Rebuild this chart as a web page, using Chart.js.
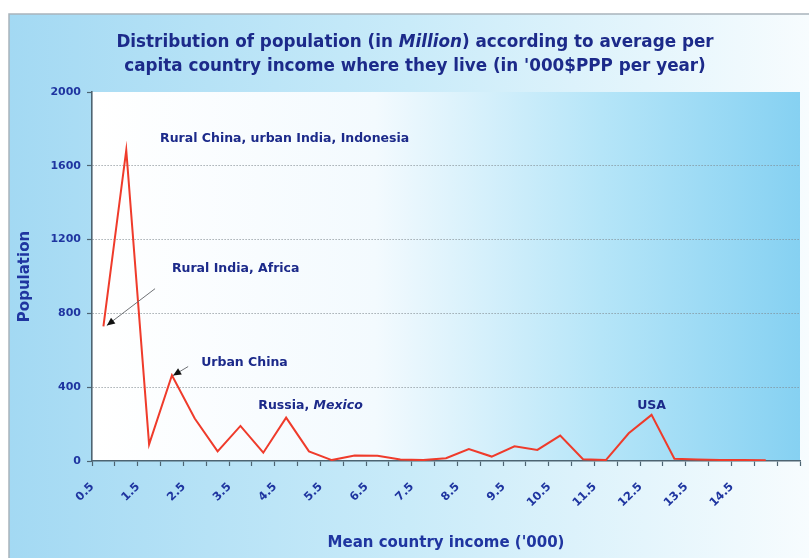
<!DOCTYPE html>
<html>
<head>
<meta charset="utf-8">
<script src="https://cdn.jsdelivr.net/npm/chart.js@4/dist/chart.umd.min.js"></script>
<style>
  html, body { margin: 0; padding: 0; background: #ffffff; }
  canvas { display: block; }
</style>
</head>
<body>
<canvas id="chart" width="809" height="558"></canvas>
<script>
// Mean country income categories ('000 $PPP), in half-thousand steps
const incomeCategories = ['0.5','1','1.5','2','2.5','3','3.5','4','4.5','5','5.5','6','6.5','7','7.5',
  '8','8.5','9','9.5','10','10.5','11','11.5','12','12.5','13','13.5','14','14.5','15',''];

// Population living in countries of each income band (million)
const population = [730, 1685, 90, 465, 230, 52, 190, 45, 235, 52, 5, 30, 28, 8, 5,
  15, 65, 24, 80, 60, 138, 10, 5, 150, 250, 12, 8, 6, 5, 4, null];

// Category labels printed under the axis
const tickLabels = ['0.5','1.5','2.5','3.5','4.5','5.5','6.5','7.5','8.5','9.5','10.5','11.5','12.5','13.5','14.5'];

// Value axis range
const yMin = 0, yMax = 2000, yStep = 400;

const titleLines = [
  [['Distribution of population (in ', 'normal'], ['Million', 'italic'], [') according to average per', 'normal']],
  [["capita country income where they live (in '000$PPP per year)", 'normal']]
];

// Callouts in data space: x = category index, y = population
const callouts = [
  { runs: [['Rural China, urban India, Indonesia', 'normal']], x: 2.48, y: 1746, align: 'left' },
  { runs: [['Rural India, Africa', 'normal']], x: 3.0, y: 1044, align: 'left',
    arrow: { from: [2.26, 934], to: [0.15, 735] } },
  { runs: [['Urban China', 'normal']], x: 4.28, y: 533, align: 'left',
    arrow: { from: [3.71, 512], to: [3.05, 463] } },
  { runs: [['Russia, ', 'normal'], ['Mexico', 'italic']], x: 6.78, y: 302, align: 'left' },
  { runs: [['USA', 'normal']], x: 24, y: 302, align: 'center' }
];

const FONT = '"DejaVu Sans", Verdana, sans-serif';
const NAVY = '#1c2a8a';
const BLUE = '#1f35a0';
const AXIS = '#4d6472';

function drawRuns(ctx, runs, x, y, size, align) {
  let total = 0;
  const widths = runs.map(([t, style]) => {
    ctx.font = style + ' bold ' + size + 'px ' + FONT;
    const w = ctx.measureText(t).width;
    total += w;
    return w;
  });
  let cx = align === 'center' ? x - total / 2 : x;
  ctx.textAlign = 'left';
  ctx.textBaseline = 'middle';
  runs.forEach(([t, style], i) => {
    ctx.font = style + ' bold ' + size + 'px ' + FONT;
    ctx.fillText(t, cx, y);
    cx += widths[i];
  });
}

const decor = {
  id: 'decor',
  beforeDraw(chart) {
    const { ctx, chartArea: a, width, height } = chart;
    ctx.save();
    ctx.fillStyle = '#ffffff';
    ctx.fillRect(0, 0, width, height);
    // outer panel
    const og = ctx.createLinearGradient(9, 0, width, 0);
    og.addColorStop(0, '#a3d9f3');
    og.addColorStop(0.5, '#c9ebf9');
    og.addColorStop(1, '#f7fcfe');
    ctx.fillStyle = og;
    ctx.fillRect(9, 14, width - 9, height - 14);
    ctx.strokeStyle = '#a9b4bc';
    ctx.lineWidth = 1.5;
    ctx.beginPath();
    ctx.moveTo(9, height);
    ctx.lineTo(9, 14);
    ctx.lineTo(width, 14);
    ctx.stroke();
    // plot area
    const pg = ctx.createLinearGradient(a.left, 0, a.right, 0);
    pg.addColorStop(0, '#ffffff');
    pg.addColorStop(0.4, '#f3fafe');
    pg.addColorStop(0.72, '#b5e5f8');
    pg.addColorStop(1, '#86d1f2');
    ctx.fillStyle = pg;
    ctx.fillRect(a.left, a.top, a.right - a.left, a.bottom - a.top);
    // title
    ctx.fillStyle = NAVY;
    drawRuns(ctx, titleLines[0], 415, 43, 16.8, 'center');
    drawRuns(ctx, titleLines[1], 415, 67, 16.8, 'center');
    ctx.restore();
  },
  afterDatasetsDraw(chart) {
    const { ctx, scales: { x, y } } = chart;
    ctx.save();
    callouts.forEach(c => {
      if (c.arrow) {
        const x1 = x.getPixelForValue(c.arrow.from[0]), y1 = y.getPixelForValue(c.arrow.from[1]);
        const x2 = x.getPixelForValue(c.arrow.to[0]), y2 = y.getPixelForValue(c.arrow.to[1]);
        ctx.strokeStyle = '#6f7276';
        ctx.lineWidth = 1;
        ctx.beginPath();
        ctx.moveTo(x1, y1);
        ctx.lineTo(x2, y2);
        ctx.stroke();
        const ang = Math.atan2(y2 - y1, x2 - x1);
        const len = 8, half = 3.6;
        ctx.fillStyle = '#111111';
        ctx.beginPath();
        ctx.moveTo(x2, y2);
        ctx.lineTo(x2 - len * Math.cos(ang) + half * Math.sin(ang), y2 - len * Math.sin(ang) - half * Math.cos(ang));
        ctx.lineTo(x2 - len * Math.cos(ang) - half * Math.sin(ang), y2 - len * Math.sin(ang) + half * Math.cos(ang));
        ctx.closePath();
        ctx.fill();
      }
      ctx.fillStyle = NAVY;
      drawRuns(ctx, c.runs, x.getPixelForValue(c.x), y.getPixelForValue(c.y), 12.5, c.align);
    });
    ctx.restore();
  }
};

new Chart(document.getElementById('chart'), {
  type: 'line',
  data: {
    labels: incomeCategories,
    datasets: [{
      data: population,
      borderColor: '#ef3b2b',
      borderWidth: 2,
      pointRadius: 0,
      tension: 0,
      fill: false,
      spanGaps: false
    }]
  },
  options: {
    responsive: false,
    animation: false,
    events: [],
    layout: { padding: { left: 0, right: 9, top: 92, bottom: 0 } },
    plugins: {
      legend: { display: false },
      title: { display: false },
      tooltip: { enabled: false }
    },
    scales: {
      x: {
        type: 'category',
        offset: true,
        grid: {
          offset: true,
          drawOnChartArea: false,
          drawTicks: true,
          tickLength: 5,
          tickColor: AXIS,
          tickWidth: 1.2,
          color: AXIS
        },
        border: { color: AXIS, width: 1.6 },
        ticks: {
          autoSkip: false,
          minRotation: 45,
          maxRotation: 45,
          padding: 14,
          labelOffset: -11,
          color: BLUE,
          font: { family: FONT, size: 11.5, weight: 'bold' },
          callback: (v, i) => tickLabels.includes(incomeCategories[i]) ? incomeCategories[i] : ''
        },
        title: {
          display: true,
          text: "Mean country income ('000)",
          color: BLUE,
          font: { family: FONT, size: 15, weight: 'bold' },
          padding: 6
        },
        afterFit: s => { s.height = 97; s.paddingRight = 0; }
      },
      y: {
        min: yMin,
        max: yMax,
        grid: {
          color: c => (c.tick && (c.tick.value === yMin || c.tick.value === yMax)) ? 'rgba(0,0,0,0)' : '#7d878d',
          lineWidth: 1,
          tickLength: 5,
          tickColor: AXIS,
          tickWidth: 1.2
        },
        border: { color: AXIS, width: 1.6, dash: [1, 2] },
        ticks: {
          stepSize: yStep,
          padding: 6,
          color: BLUE,
          font: { family: FONT, size: 11, weight: 'bold' },
          callback: v => String(v)
        },
        title: {
          display: true,
          text: 'Population',
          color: BLUE,
          font: { family: FONT, size: 15, weight: 'bold' },
          padding: 16
        },
        afterFit: s => { s.width = 92; }
      }
    }
  },
  plugins: [decor]
});
</script>
</body>
</html>
